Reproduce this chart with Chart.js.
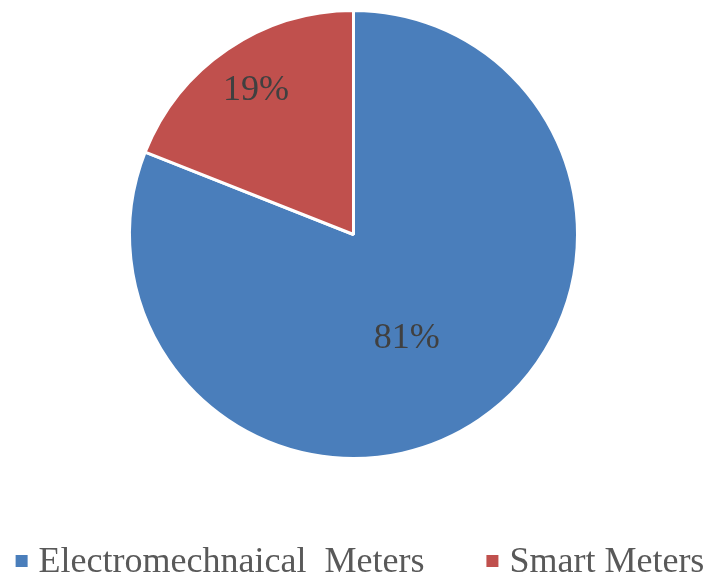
<!DOCTYPE html>
<html>
<head>
<meta charset="utf-8">
<script src="https://cdn.jsdelivr.net/npm/chart.js@4"></script>
<style>
  html, body { margin: 0; padding: 0; background: #fff; }
  #wrap { width: 712px; height: 576px; }
</style>
</head>
<body>
<div id="wrap"><canvas id="pieChart" width="712" height="576"></canvas></div>
<script>
// chart data
const labels = ['Electromechnaical  Meters', 'Smart Meters'];
const shares = [81, 19];
const sliceColors = ['#4a7ebb', '#c0504d'];

// where each % label sits inside its slice (fraction of radius, angle shift in degrees)
const labelRadius = [0.52, 0.775];
const labelShift = [7, 0];

const serif = '"Liberation Serif", "Times New Roman", serif';

// draws the percentage inside each slice
const sliceLabels = {
  id: 'sliceLabels',
  afterDatasetsDraw(chart) {
    const ctx = chart.ctx;
    const meta = chart.getDatasetMeta(0);
    ctx.save();
    ctx.font = '36px ' + serif;
    ctx.fillStyle = '#404040';
    ctx.textAlign = 'center';
    ctx.textBaseline = 'middle';
    meta.data.forEach((arc, i) => {
      const p = arc.getProps(['x', 'y', 'startAngle', 'endAngle', 'outerRadius'], true);
      const a = (p.startAngle + p.endAngle) / 2 + labelShift[i] * Math.PI / 180;
      const r = p.outerRadius * labelRadius[i];
      ctx.fillText(shares[i] + '%', p.x + Math.cos(a) * r, p.y + Math.sin(a) * r);
    });
    ctx.restore();
  }
};

// legend at the bottom, drawn by hand so the box/text spacing matches
const bottomLegend = {
  id: 'bottomLegend',
  afterDraw(chart) {
    const ctx = chart.ctx;
    const box = 12, gap = 11, itemGap = 62, baseline = 572;
    ctx.save();
    ctx.font = '36px ' + serif;
    const widths = labels.map(t => ctx.measureText(t).width);
    const total = widths.reduce((s, w) => s + box + gap + w, 0) + itemGap * (labels.length - 1);
    let x = chart.width / 2 + 4 - total / 2;
    labels.forEach((t, i) => {
      ctx.fillStyle = sliceColors[i];
      ctx.fillRect(x, baseline - 17, box, box);
      ctx.fillStyle = '#595959';
      ctx.textBaseline = 'alphabetic';
      ctx.fillText(t, x + box + gap, baseline);
      x += box + gap + widths[i] + itemGap;
    });
    ctx.restore();
  }
};

new Chart(document.getElementById('pieChart').getContext('2d'), {
  type: 'pie',
  data: {
    labels: labels,
    datasets: [{
      data: shares,
      backgroundColor: sliceColors,
      borderColor: '#ffffff',
      borderWidth: 3
    }]
  },
  options: {
    responsive: false,
    animation: false,
    layout: { padding: { top: 9, left: 0, right: 5, bottom: 116 } },
    plugins: {
      legend: { display: false },
      tooltip: { enabled: false }
    }
  },
  plugins: [sliceLabels, bottomLegend]
});
</script>
</body>
</html>
